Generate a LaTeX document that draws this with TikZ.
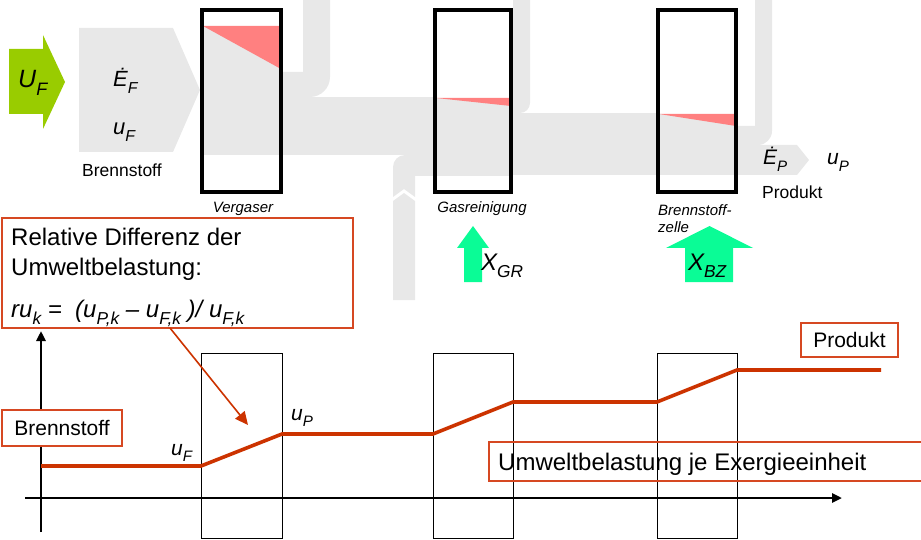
\documentclass[tikz,border=0pt]{standalone}
\usepackage{fontspec}
\setmainfont{Liberation Sans}
\usetikzlibrary{arrows.meta}
\definecolor{flowgray}{RGB}{232,232,232}
\definecolor{lossred}{RGB}{255,128,128}
\definecolor{ugreen}{RGB}{153,204,0}
\definecolor{xgreen}{RGB}{10,252,150}
\definecolor{ored}{RGB}{204,51,0}
\definecolor{bordred}{RGB}{214,72,34}
\newcommand{\sbs}[1]{\raisebox{-0.3em}{\scalebox{0.72}{#1}}}
\newcommand{\setfs}[1]{\fontsize{#1}{#1}\selectfont}
\begin{document}
\begin{tikzpicture}[x=1pt,y=-1pt,
  flow/.style={fill=flowgray,draw=none},
  loss/.style={fill=lossred,draw=none},
  unitbox/.style={draw=black,line width=4pt,inner sep=0pt,minimum height=182pt},
  chartbox/.style={draw=black,line width=0.9pt},
  txt/.style={inner sep=0pt,anchor=base west},
  lab/.style={draw=bordred,line width=1.2pt,fill=white,inner sep=0pt},
  axis/.style={line width=2.6pt,-{Triangle[length=10pt,width=9pt]}},
  uline/.style={draw=ored,line width=3.6pt,line join=miter}]
\useasboundingbox (0,0) rectangle (921,540);

% ---------- gray exergy flows ----------
\fill[flow] (79,28) -- (173,28) -- (200,90) -- (173,152) -- (79,152) -- cycle;
\fill[flow] (200,26) rectangle (283,155);
\fill[flow] (283,72) -- (303,72) -- (303,0) -- (330,0) -- (330,77) .. controls (330,88) and (321,97) .. (310,97) -- (283,97) -- cycle;
\fill[flow] (283,97) rectangle (433,155);
\fill[flow] (433,98) rectangle (513,176);
\fill[flow] (393,197) -- (393,167) .. controls (393,160.4) and (398.4,155) .. (405,155) -- (433,155) -- (433,176) -- (415,176) -- (415,197) -- (404,189) -- cycle;
\fill[flow] (393,300) -- (393,201) -- (404,193) -- (415,201) -- (415,300) -- cycle;
\fill[flow] (513,0) -- (530,0) -- (530,103) .. controls (530,108.5) and (525.5,113) .. (520,113) -- (513,113) -- cycle;
\fill[flow] (513,113) rectangle (656,175);
\fill[flow] (656,114) rectangle (738,175);
\fill[flow] (738,126) -- (755,126) -- (755,0) -- (772,0) -- (772,131) .. controls (772,138.7) and (765.7,145) .. (758,145) -- (738,145) -- cycle;
\fill[flow] (738,145) -- (797,145) -- (809,160) -- (797,175) -- (738,175) -- cycle;

% losses
\fill[loss] (203,26) -- (281,26) -- (281,69) -- cycle;
\fill[loss] (436,98) -- (511,98) -- (511,106) -- cycle;
\fill[loss] (659,114) -- (736,114) -- (736,126) -- cycle;

% units
\node[unitbox,minimum width=79pt] (verg) at (241.5,101) {};
\node[unitbox,minimum width=76pt] (gr) at (473,101) {};
\node[unitbox,minimum width=78pt] (bz) at (697,101) {};

\node[txt,anchor=base] (vergl) at (243,213) {\setfs{15}\itshape Vergaser};
\node[txt,anchor=base] (grl) at (482,213) {\setfs{15}\itshape Gasreinigung};
\node[txt] (bzl1) at (658,215) {\setfs{15}\itshape Brennstoff-};
\node[txt] (bzl2) at (658,233) {\setfs{15}\itshape zelle};

% green input arrow
\fill[ugreen] (9,49) -- (43,49) -- (43,35) -- (65,82) -- (43,129) -- (43,114) -- (9,114) -- cycle;
\node[txt] (uf) at (18,88) {\setfs{25}\itshape U\sbs{F}};

\node[txt] (ef) at (113,87) {\setfs{22}\itshape Ė\sbs{F}};
\node[txt] (uft) at (113,135) {\setfs{22}\itshape u\sbs{F}};
\node[txt] (brt) at (82,177) {\setfs{17.5}Brennstoff};

\node[txt] (ep) at (763,165) {\setfs{21}\itshape Ė\sbs{P}};
\node[txt] (upt) at (827,165) {\setfs{21}\itshape u\sbs{P}};
\node[txt] (prt) at (762,199) {\setfs{17.5}Produkt};

% X arrows
\fill[xgreen] (464,282) -- (464,248) -- (457,248) -- (473,226) -- (489,248) -- (482,248) -- (482,282) -- cycle;
\node[txt] (xgr) at (481,270) {\setfs{24}\itshape X\sbs{GR}};
\fill[xgreen] (685,282) -- (685,248) -- (666,248) -- (709.5,226) -- (753,248) -- (733,248) -- (733,282) -- cycle;
\node[txt] (xbz) at (688,270) {\setfs{24}\itshape X\sbs{BZ}};

% ---------- lower chart ----------
\node[chartbox,minimum width=81pt,minimum height=185pt,inner sep=0pt] (c1) at (241.5,445.5) {};
\node[chartbox,minimum width=80pt,minimum height=185pt,inner sep=0pt] (c2) at (473,445.5) {};
\node[chartbox,minimum width=80pt,minimum height=185pt,inner sep=0pt] (c3) at (697,445.5) {};

\coordinate (ybot) at (41,532);
\coordinate (ytop) at (41,331);
\coordinate (xl) at (25,498);
\coordinate (xr) at (842,498);
\draw[axis] (ybot) -- (ytop);
\draw[axis] (xl) -- (xr);

\coordinate (p0) at (41,466);
\coordinate (p1) at (201,466);
\coordinate (p2) at (282,434);
\coordinate (p3) at (433,434);
\coordinate (p4) at (513,402);
\coordinate (p5) at (657,402);
\coordinate (p6) at (737,370);
\coordinate (p7) at (881,370);
\draw[uline] (p0) -- (p1) -- (p2) -- (p3) -- (p4) -- (p5) -- (p6) -- (p7);

\node[txt] (ufl) at (171,455) {\setfs{21}\itshape u\sbs{F}};
\node[txt] (upl) at (291,420) {\setfs{21}\itshape u\sbs{P}};

\node[lab,minimum width=120pt,minimum height=36pt] (brbox) at (62,428) {\setfs{21}Brennstoff};
\node[lab,minimum width=97pt,minimum height=34pt] (prbox) at (849.5,340) {\setfs{21}Produkt};
\node[draw=bordred,line width=1.2pt,inner sep=0pt,minimum width=440pt,minimum height=39pt] (ubox) at (709,461.5) {};
\node[txt] (utext) at (498,470) {\setfs{24}Umweltbelastung je Exergieeinheit};

% relative difference box
\node[lab,minimum width=351pt,minimum height=110pt] (relbox) at (177.5,273) {};
\node[txt] (rel1) at (11,245) {\setfs{24}Relative Differenz der};
\node[txt] (rel2) at (11,275) {\setfs{24}Umweltbelastung:};
\node[txt] (rel3) at (11,317) {\setfs{24}\itshape ru\sbs{k} =\ \ (u\sbs{P,k} – u\sbs{F,k} )/ u\sbs{F,k}};

\coordinate (aS) at (170,328);
\coordinate (aE) at (248,425);
\draw[draw=ored,line width=1.6pt,-{Triangle[length=13pt,width=12pt]}] (aS) -- (aE);
\end{tikzpicture}
\end{document}
